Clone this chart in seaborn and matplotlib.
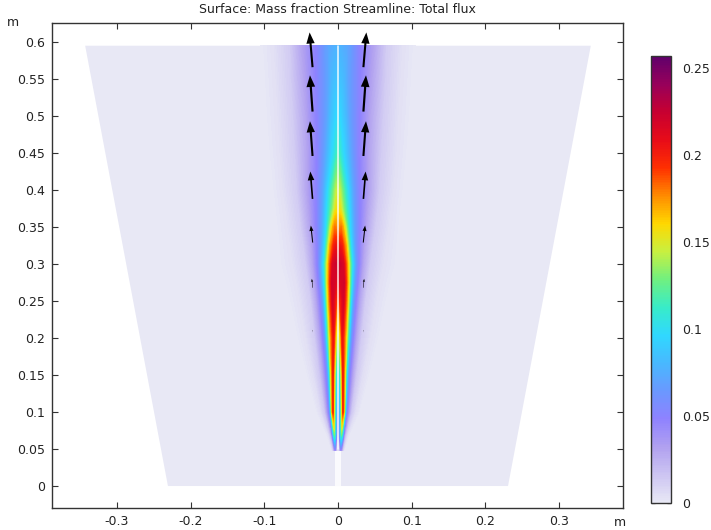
import matplotlib
matplotlib.use("Agg")
import matplotlib.pyplot as plt
import numpy as np
import seaborn as sns

# plume cross sections, half profile (mirrored below)
# each column follows the same feature: centre, inner flank, peak, then falling colour bands
heights = [0.048, 0.07, 0.10, 0.15, 0.20, 0.25, 0.275, 0.30, 0.325, 0.35, 0.375, 0.40, 0.45, 0.50, 0.55, 0.595]

offsets_mm = [
    [0, 2, 3.8, 4.3, 4.7, 5.2, 5.6, 6, 6.5, 7.1, 7.9, 8.8],
    [0, 2, 4.7, 5.8, 6.5, 7.2, 7.9, 8.5, 9.5, 10.9, 12.9, 16.3],
    [0, 2.7, 6.8, 8.1, 9, 9.9, 10.9, 12.2, 14.9, 17.6, 23, 29.9],
    [0, 2.7, 6.8, 8.8, 10.2, 11.8, 13.6, 15.6, 19.7, 24.4, 32.6, 43.4],
    [0, 2.7, 6.1, 10.2, 12.2, 14.9, 17, 19.7, 24.4, 31.2, 43.4, 57],
    [0, 3.4, 7.5, 12.5, 14.6, 17.4, 20.2, 23.4, 29, 36.6, 51.6, 67.9],
    [0, 3.4, 8.1, 13.3, 15.5, 18.6, 22, 25.8, 31.5, 40, 56, 74],
    [0, 3.4, 7.5, 12.9, 15.6, 19.4, 23.6, 27.5, 33.9, 43.4, 61, 81.4],
    [0, 3, 5.4, 10.9, 13.6, 17.6, 22.4, 27.5, 35.5, 46.5, 64.5, 83],
    [0, 2.7, 4.1, 6.8, 10.9, 15.6, 21.7, 28.5, 38, 50.2, 67.9, 85.5],
    [0, 2, 3, 4, 6, 14.5, 21, 28.5, 40, 53, 71, 88],
    [0, 1.4, 2, 2.7, 3.4, 12.9, 20.4, 28.5, 42, 55.6, 74.6, 90.9],
    [0, 1.4, 2, 2.7, 4.1, 6.1, 17.6, 27, 42, 58.4, 78.7, 96.3],
    [0, 1.4, 2.7, 4.1, 5.4, 10.9, 14.9, 27.8, 43.4, 61, 81.4, 100.4],
    [0, 2, 4.1, 6.1, 8.1, 10.9, 13.6, 28.5, 46.1, 63.8, 84.1, 103],
    [0, 4.1, 6.8, 9.5, 12.2, 13.6, 17.6, 28.5, 48.9, 65.1, 86.8, 105.8],
]

mass_fraction = [
    [0, .01, .04, .035, .03, .025, .02, .015, .01, .006, .002, 0],
    [.02, .05, .13, .11, .09, .07, .05, .035, .022, .012, .004, 0],
    [.05, .08, .195, .17, .14, .10, .07, .05, .03, .015, .005, 0],
    [.07, .11, .20, .17, .14, .10, .07, .05, .03, .015, .005, 0],
    [.12, .155, .205, .17, .14, .10, .07, .05, .03, .013, .004, 0],
    [.18, .20, .218, .17, .14, .10, .07, .05, .03, .013, .004, 0],
    [.20, .215, .22, .17, .14, .10, .07, .05, .03, .013, .004, 0],
    [.215, .222, .215, .17, .14, .10, .07, .05, .03, .013, .004, 0],
    [.195, .205, .20, .17, .14, .10, .07, .05, .03, .013, .004, 0],
    [.172, .178, .18, .17, .14, .10, .07, .05, .03, .013, .004, 0],
    [.158, .156, .154, .15, .14, .10, .07, .05, .03, .013, .004, 0],
    [.145, .144, .143, .142, .14, .10, .07, .05, .03, .013, .004, 0],
    [.115, .113, .112, .11, .105, .10, .07, .05, .03, .013, .004, 0],
    [.097, .096, .095, .093, .09, .08, .07, .05, .03, .013, .004, 0],
    [.086, .085, .084, .082, .08, .075, .07, .05, .03, .013, .004, 0],
    [.078, .077, .075, .073, .072, .07, .066, .05, .03, .013, .004, 0],
]

# domain outline and inlet slit
domain_x = [-0.2307, 0.2307, 0.343, -0.343]
domain_y = [0, 0, 0.595, 0.595]
slit_x = [-0.0045, 0.0045, 0.0045, -0.0045]
slit_y = [0, 0, 0.047, 0.047]

# flux arrows on the right side, left side is the mirror
arrow_x = [0.0343, 0.0343, 0.0343, 0.0345, 0.0345, 0.0345, 0.0345]
arrow_y = [0.208, 0.268, 0.329, 0.388, 0.446, 0.506, 0.566]
arrow_dx = [0.0002, 0.0012, 0.0025, 0.003, 0.0035, 0.0035, 0.004]
arrow_dy = [0.003, 0.012, 0.023, 0.037, 0.047, 0.049, 0.047]

# colours of the bar, equal steps from 0 to the maximum
bar_colors = ["#e8e8f5", "#ccc4f2", "#b0a0f0", "#8e82ff", "#6a98ff", "#48b8ff",
              "#30d8ff", "#38ecc8", "#70f080", "#c8f040", "#ffd800", "#ff8c00",
              "#ff3000", "#e80c18", "#c80030", "#98005a", "#60006b"]
bar_max = 0.257

x_ticks = [-0.3, -0.2, -0.1, 0, 0.1, 0.2, 0.3]
y_ticks = [0, 0.05, 0.1, 0.15, 0.2, 0.25, 0.3, 0.35, 0.4, 0.45, 0.5, 0.55, 0.6]
bar_ticks = [0, 0.05, 0.1, 0.15, 0.2, 0.25]

sns.set_style("ticks")
plt.rcParams["font.family"] = ["DejaVu Sans"]
cmap = sns.blend_palette(bar_colors, n_colors=512, as_cmap=True)
dark = "#333333"
text_color = "#222222"

W, H = 711, 530
fig = plt.figure(figsize=(W / 100, H / 100), dpi=100)
ax = fig.add_axes([52 / W, (H - 508) / H, 571 / W, 485 / H])

ax.fill(domain_x, domain_y, color=bar_colors[0], lw=0)

# mirror the half profiles to a full mesh
off = np.array(offsets_mm) / 1000
val = np.array(mass_fraction)
X = np.hstack([-off[:, :0:-1], off])
Z = np.hstack([val[:, :0:-1], val])
Y = np.repeat(np.array(heights)[:, None], X.shape[1], axis=1)
norm = plt.Normalize(0, bar_max)
ax.contourf(X, Y, Z, levels=np.linspace(0, bar_max, 513), cmap=cmap, norm=norm)

ax.fill(slit_x, slit_y, color="#fafafd", lw=0)
sns.lineplot(x=[0, 0], y=[0.05, 0.595], color="white", lw=1.1, alpha=0.9, sort=False,
             estimator=None, errorbar=None, ax=ax)

for side in (1, -1):
    for x0, y0, dx, dy in zip(arrow_x, arrow_y, arrow_dx, arrow_dy):
        ax.arrow(side * x0, y0, side * dx, dy, width=0.06 * dy, head_width=0.24 * dy,
                 head_length=0.32 * dy, length_includes_head=True, color="black", lw=0,
                 zorder=5)

ax.set_xlim(-0.388, 0.3867)
ax.set_ylim(-0.0297, 0.6257)
ax.set_xticks(x_ticks, [f"{t:g}" for t in x_ticks])
ax.set_yticks(y_ticks, [f"{t:g}" for t in y_ticks])
ax.tick_params(direction="in", length=4.5, width=0.8, top=True, right=True, labelsize=9,
               color=dark, labelcolor=text_color, pad=5)
for s in ax.spines.values():
    s.set_color(dark)
    s.set_linewidth(1)
ax.set_xlabel("")
ax.set_ylabel("")
ax.set_title("Surface: Mass fraction Streamline: Total flux", fontsize=9, pad=7, color=text_color)

fig.text(13 / W, (H - 23) / H, "m", fontsize=9, ha="center", va="center", color=text_color)
fig.text(620 / W, (H - 522) / H, "m", fontsize=9, ha="center", va="center", color=text_color)

cax = fig.add_axes([651 / W, (H - 503) / H, 20 / W, 447 / H])
cbar = fig.colorbar(plt.cm.ScalarMappable(norm=norm, cmap=cmap), cax=cax)
cbar.set_ticks(bar_ticks, labels=[f"{t:g}" for t in bar_ticks])
cax.tick_params(direction="in", length=3, width=0.9, left=True, right=True, labelsize=9,
                color=dark, labelcolor=text_color, pad=8)
cbar.outline.set_edgecolor(dark)
cbar.outline.set_linewidth(1)

fig.savefig("out.png", dpi=100)
